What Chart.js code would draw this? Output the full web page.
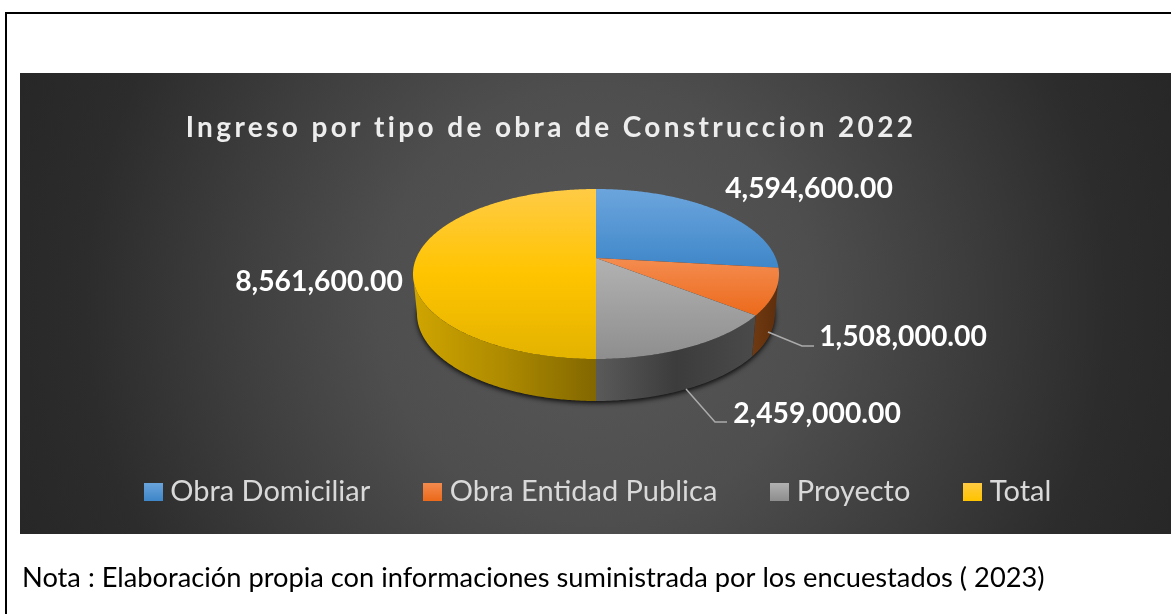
<!DOCTYPE html>
<html><head><meta charset="utf-8">
<style>html,body{margin:0;padding:0;background:#fff;overflow:hidden}canvas{display:block}</style>
<script src="https://cdn.jsdelivr.net/npm/chart.js@4/dist/chart.umd.js"></script>
</head><body><canvas id="c" width="1171" height="614"></canvas>
<script>
const categories = ["Obra Domiciliar","Obra Entidad Publica","Proyecto","Total"];
const values = [4594600,1508000,2459000,8561600];
const baseColors = ["#5B9BD5","#ED7D31","#A5A5A5","#FFC000"];
const titleText = "Ingreso por tipo de obra de Construccion 2022";
const noteText = "Nota : Elaboración propia con informaciones suministrada por los encuestados ( 2023)";

const topStops = [["#6CA5DD","#3F87C9"],["#F48C50","#EC6A1B"],["#B2B2B2","#8E8E8E"],["#FFCB45","#FFC400","#E3B300"]];
const wallStops = [["#3a6a94","#3a6a94"],["#6F3A12","#5E2D0B"],["#5A5A5A","#3C3C3C","#4A4A4A"],["#CFA500","#AD8A00","#826700"]];

const persp = -0.188, ryRatio = 85/183, pieShiftX = -5;
function proj(cx,cy,rx,ry,t){
  const u=Math.cos(t), v=Math.sin(t);
  const d=1+persp*v;
  return [cx+rx*u*Math.sqrt(1-persp*persp)/d, cy+ry*(v+persp)/d];
}
function rimPts(cx,cy,rx,ry,a,b){
  const n=Math.max(2,Math.ceil((b-a)/0.01)), p=[];
  for(let i=0;i<=n;i++) p.push(proj(cx,cy,rx,ry,a+(b-a)*i/n));
  return p;
}
function grad(ctx,x0,y0,x1,y1,stops){
  const g=ctx.createLinearGradient(x0,y0,x1,y1);
  stops.forEach((c,i)=>g.addColorStop(i/(stops.length-1),c));
  return g;
}
function fillPoly(ctx,pts,fill){
  ctx.beginPath();pts.forEach((p,i)=>i?ctx.lineTo(p[0],p[1]):ctx.moveTo(p[0],p[1]));
  ctx.closePath();ctx.fillStyle=fill;ctx.fill();
}
const pie3d = {
  id:"pie3d",
  beforeDraw(chart){
    const ctx=chart.ctx;
    ctx.save();
    ctx.fillStyle="#fff";ctx.fillRect(0,0,1171,614);
    const r=ctx.createRadialGradient(596,304,0,596,304,640);
    r.addColorStop(0,"#585858");r.addColorStop(0.34,"#4e4e4e");r.addColorStop(0.59,"#3c3c3c");r.addColorStop(0.8,"#2c2c2c");r.addColorStop(1,"#262626");
    ctx.fillStyle=r;ctx.fillRect(20,73,1151,461);
    ctx.fillStyle="#000";ctx.fillRect(5,12,1166,2);ctx.fillRect(5,12,2,602);
    ctx.restore();
  },
  beforeDatasetsDraw(chart){
    const ctx=chart.ctx, arcs=chart.getDatasetMeta(0).data;
    const cx=arcs[0].x+pieShiftX, cy=arcs[0].y, rx=arcs[0].outerRadius, ry=rx*ryRatio;
    const bx=179, byc=cy+40, by=87;
    const vis0=Math.asin(-persp), vis1=Math.PI-vis0;
    ctx.save();
    // drop shadow of the body
    ctx.save();
    ctx.shadowColor="rgba(0,0,0,0.85)";ctx.shadowBlur=5;ctx.shadowOffsetY=2;
    fillPoly(ctx,rimPts(cx,byc,bx,by,0,Math.PI*2),"#222");
    ctx.restore();
    // walls
    arcs.forEach((a,i)=>{
      const s=Math.max(a.startAngle,vis0), e=Math.min(a.endAngle,vis1);
      if(e<=s) return;
      const t=rimPts(cx,cy,rx,ry,s,e), b=rimPts(cx,byc,bx,by,s,e).reverse();
      const pts=t.concat(b), xs=pts.map(p=>p[0]);
      fillPoly(ctx,pts,grad(ctx,Math.max(...xs),0,Math.min(...xs),0,wallStops[i].slice().reverse()));
    });
    // top faces
    arcs.forEach((a,i)=>{
      const rim=rimPts(cx,cy,rx,ry,a.startAngle,a.endAngle);
      const pts=[[cx,cy+ry*persp]].concat(rim);
      const ys=pts.map(p=>p[1]);
      fillPoly(ctx,pts,grad(ctx,0,Math.min(...ys),0,Math.max(...ys),topStops[i]));
    });
    ctx.restore();
    return false;
  },
  afterDraw(chart){
    const ctx=chart.ctx;
    ctx.save();
    ctx.letterSpacing="0px";
    ctx.strokeStyle="#ABABAB";ctx.lineWidth=1.5;
    [[[768,332],[802,346],[814,346]],[[686,389],[715,422],[727,422]]].forEach(l=>{
      ctx.beginPath();l.forEach((p,i)=>i?ctx.lineTo(p[0],p[1]):ctx.moveTo(p[0],p[1]));ctx.stroke();
    });
    const fmt=v=>v.toLocaleString("en-US",{minimumFractionDigits:2,maximumFractionDigits:2});
    ctx.fillStyle="#fff";ctx.font="bold 28.3px Lato";ctx.textAlign="center";ctx.textBaseline="middle";
    [[809,189],[903,337],[817,414],[319,282]].forEach((p,i)=>ctx.fillText(fmt(values[i]),p[0],p[1]));
    ctx.letterSpacing="3.36px";ctx.font="bold 28px Lato";ctx.fillStyle="#EDEDED";
    ctx.fillText(titleText,551,128);
    ctx.letterSpacing="0px";ctx.textAlign="left";ctx.fillStyle="#000";ctx.font="27.25px Lato";
    ctx.fillText(noteText,22,578);
    ctx.restore();
  }
};
function swatch(stops){
  const c=document.createElement("canvas");c.width=19;c.height=18;
  const x=c.getContext("2d");x.fillStyle=grad(x,0,0,0,18,stops);x.fillRect(0,0,19,18);
  return c;
}
const canvas=document.getElementById("c");
canvas.getContext("2d").letterSpacing="0.85px";
const defaultLabels=Chart.overrides.doughnut.plugins.legend.labels.generateLabels;
new Chart(canvas,{
  type:"pie",
  data:{labels:categories,datasets:[{data:values,backgroundColor:baseColors,borderWidth:0,radius:183}]},
  plugins:[pie3d],
  options:{
    responsive:false,animation:false,
    layout:{padding:{left:31,top:131,bottom:98}},
    plugins:{
      tooltip:{enabled:false},
      title:{display:false},
      legend:{display:true,position:"bottom",labels:{
        color:"#D9D9D9",font:{family:"Lato",size:29},usePointStyle:true,pointStyleWidth:5,padding:60,
        generateLabels(chart){
          return defaultLabels(chart).map((l,i)=>Object.assign(l,{pointStyle:swatch(topStops[i].slice(0,2))}));
        }
      }}
    }
  }
});
</script></body></html>
